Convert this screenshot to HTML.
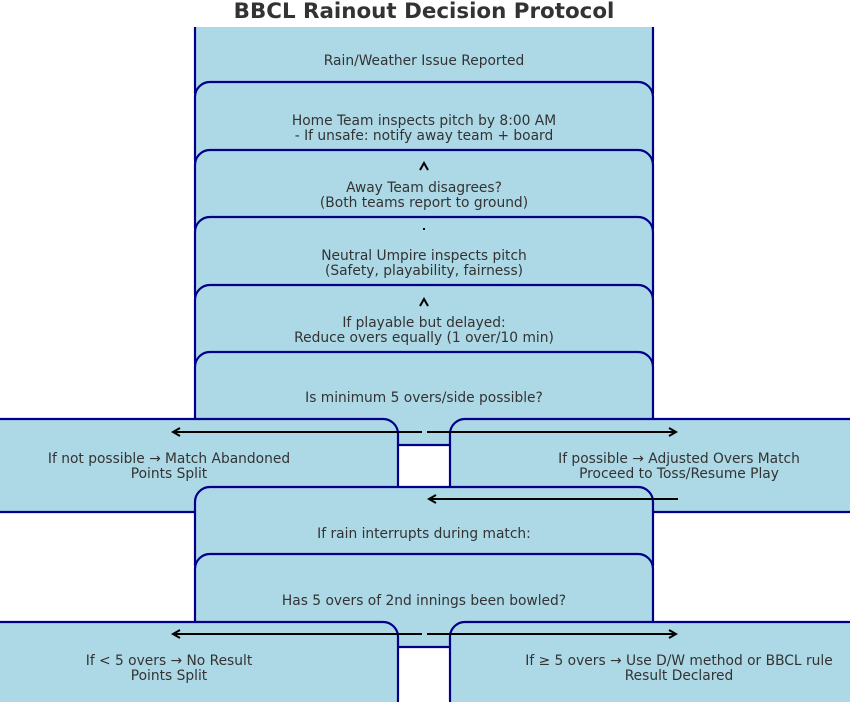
<!DOCTYPE html>
<html><head><meta charset="utf-8"><style>
body{margin:0;background:#fff;}
svg{display:block;font-family:"DejaVu Sans","Liberation Sans",sans-serif;}
</style></head><body>
<svg width="855" height="712" viewBox="0 0 855 712">
<defs><clipPath id="c"><rect x="0" y="27" width="850" height="675"/></clipPath>
<marker id="a" markerWidth="10" markerHeight="10" refX="8" refY="5" orient="auto" markerUnits="userSpaceOnUse"><path d="M1,1 L8,5 L1,9" fill="none" stroke="#000" stroke-width="2"/></marker></defs>
<text x="424" y="18" text-anchor="middle" font-size="21.4" font-weight="bold" fill="#333">BBCL Rainout Decision Protocol</text>
<g clip-path="url(#c)" fill="#add8e6" stroke="#00008b" stroke-width="2.2">
<rect x="195" y="14" width="458" height="93" rx="15"/>
<rect x="195" y="82" width="458" height="93" rx="15"/>
<rect x="195" y="150" width="458" height="93" rx="15"/>
<rect x="195" y="217" width="458" height="93" rx="15"/>
<rect x="195" y="285" width="458" height="93" rx="15"/>
<rect x="195" y="352" width="458" height="93" rx="15"/>
<rect x="-60" y="419" width="458" height="93" rx="15"/>
<rect x="450" y="419" width="458" height="93" rx="15"/>
<rect x="195" y="487" width="458" height="93" rx="15"/>
<rect x="195" y="554" width="458" height="93" rx="15"/>
<rect x="-60" y="622" width="458" height="93" rx="15"/>
<rect x="450" y="622" width="458" height="93" rx="15"/>
</g>
<g font-size="13.8" fill="#333" text-anchor="middle">
<text x="424" y="65">Rain/Weather Issue Reported</text>
<text x="424" y="125">Home Team inspects pitch by 8:00 AM</text>
<text x="424" y="140">- If unsafe: notify away team + board</text>
<text x="424" y="192">Away Team disagrees?</text>
<text x="424" y="207">(Both teams report to ground)</text>
<text x="424" y="260">Neutral Umpire inspects pitch</text>
<text x="424" y="275">(Safety, playability, fairness)</text>
<text x="424" y="327">If playable but delayed:</text>
<text x="424" y="342">Reduce overs equally (1 over/10 min)</text>
<text x="424" y="402">Is minimum 5 overs/side possible?</text>
<text x="169" y="463">If not possible → Match Abandoned</text>
<text x="169" y="478">Points Split</text>
<text x="679" y="463">If possible → Adjusted Overs Match</text>
<text x="679" y="478">Proceed to Toss/Resume Play</text>
<text x="424" y="538">If rain interrupts during match:</text>
<text x="424" y="605">Has 5 overs of 2nd innings been bowled?</text>
<text x="169" y="665">If &lt; 5 overs → No Result</text>
<text x="169" y="680">Points Split</text>
<text x="679" y="665">If ≥ 5 overs → Use D/W method or BBCL rule</text>
<text x="679" y="680">Result Declared</text>
</g>
<g stroke="#000" stroke-width="2" fill="none">
<path d="M420,170 L424,163 L428,170"/>
<path d="M420,306 L424,299 L428,306"/>
<line x1="424" y1="228" x2="424" y2="230"/>
<line x1="422" y1="432" x2="173" y2="432" marker-end="url(#a)"/>
<line x1="427" y1="432" x2="676" y2="432" marker-end="url(#a)"/>
<line x1="678" y1="499" x2="429" y2="499" marker-end="url(#a)"/>
<line x1="422" y1="634" x2="173" y2="634" marker-end="url(#a)"/>
<line x1="427" y1="634" x2="676" y2="634" marker-end="url(#a)"/>
</g>
</svg>
</body></html>
